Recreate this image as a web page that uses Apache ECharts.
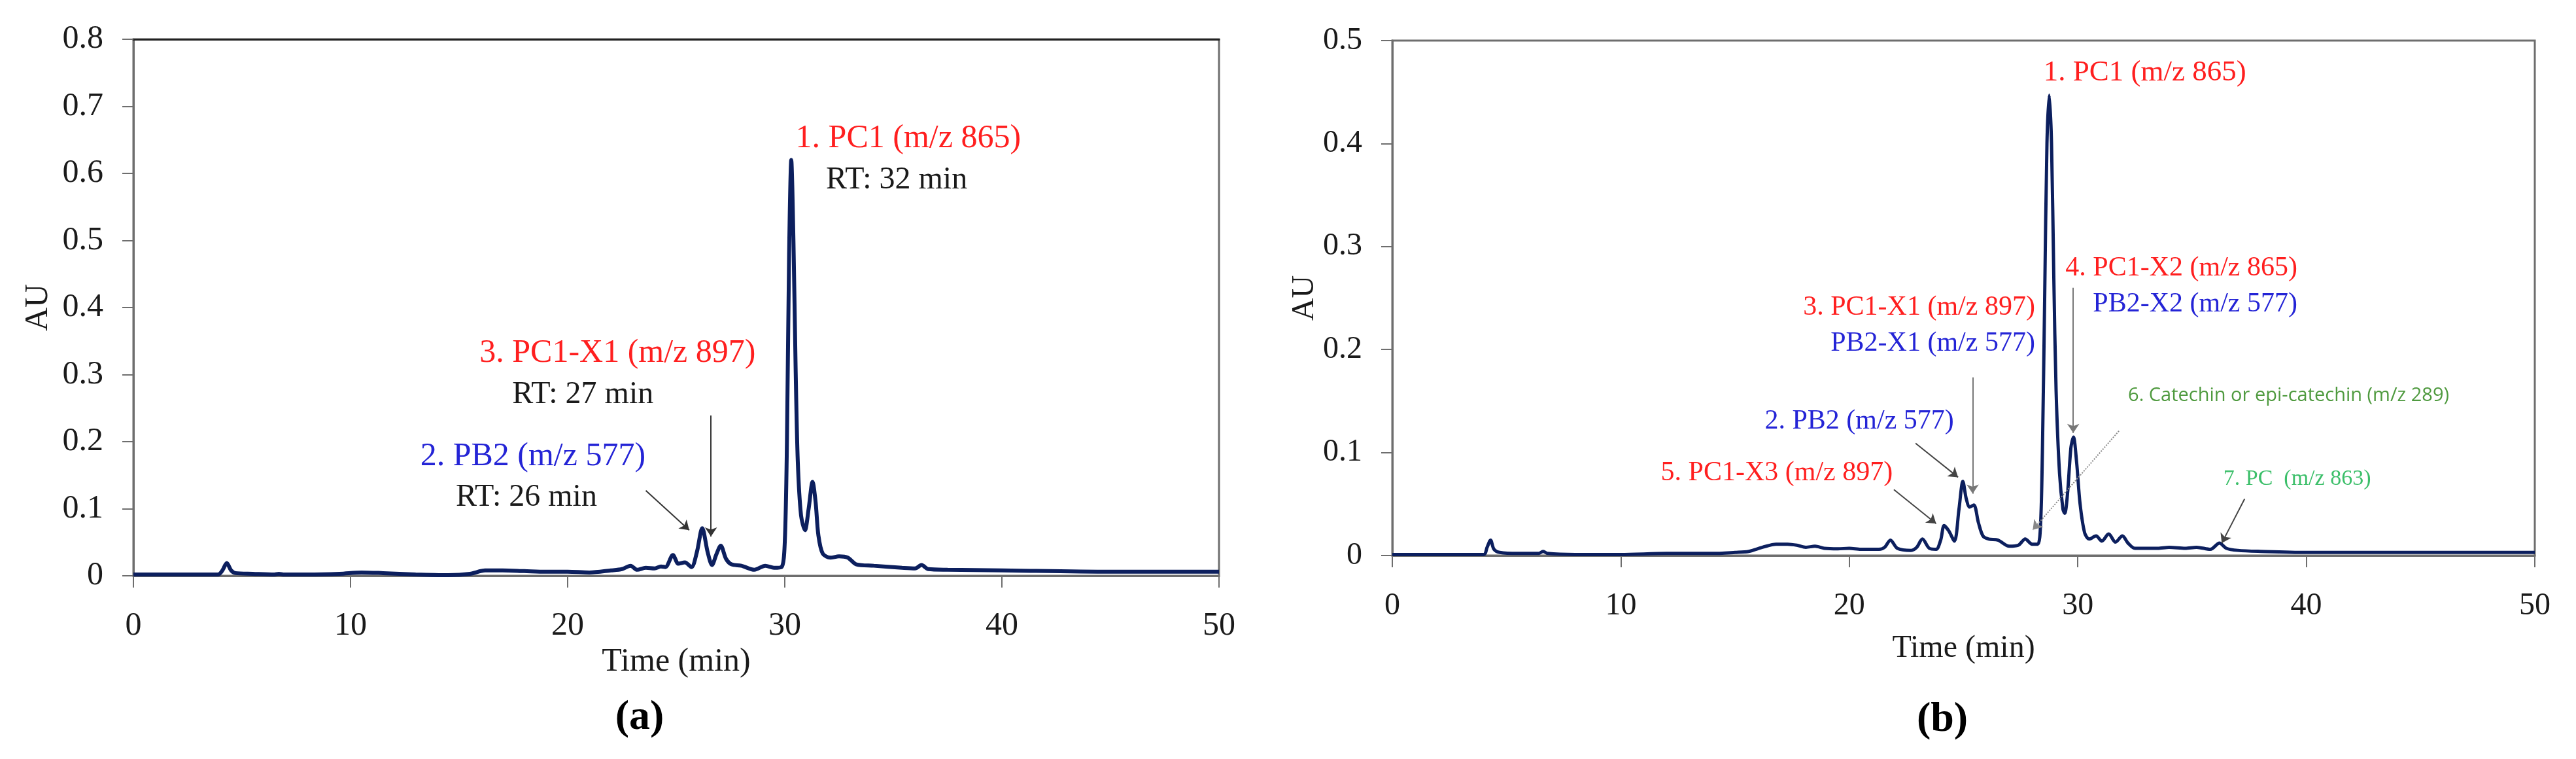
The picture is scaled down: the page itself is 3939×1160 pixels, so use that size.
<!DOCTYPE html>
<html>
<head>
<meta charset="utf-8">
<title>HPLC chromatograms (a) and (b)</title>
<script src="https://cdn.jsdelivr.net/npm/echarts@6.0.0/dist/echarts.min.js"></script>
<style>
  html, body { margin: 0; padding: 0; background: #fff; }
  #chart { width: 3939px; height: 1160px; }
</style>
</head>
<body>
<div id="chart"></div>
<script>
// chromatogram (a): retention time (min) / absorbance (AU)
var timeA = [0, 3.9, 4.1, 4.3, 4.5, 4.7, 5.5, 6.5, 6.7, 6.9, 8, 9.5, 10.5, 11.5, 13,
  14.5, 15.5, 16.2, 17, 18, 19, 20, 21, 22, 22.5, 22.9, 23.2, 23.6, 24, 24.3,
  24.5, 24.85, 25.1, 25.4, 25.7, 25.95, 26.2, 26.45, 26.65, 26.85, 27.05, 27.3, 27.55, 28, 28.6,
  29.1, 29.5, 29.85, 30.0, 30.1, 30.2, 30.3, 30.4, 30.5, 30.6, 30.75, 30.93, 31.1, 31.28, 31.42,
  31.55, 31.75, 32.1, 32.5, 32.9, 33.3, 34.1, 35.4, 36.0, 36.3, 36.6, 37.5, 40, 45, 50];
var auA = [0.002, 0.002, 0.008, 0.019, 0.008, 0.004, 0.003, 0.002, 0.003, 0.002, 0.002, 0.003, 0.005, 0.004, 0.002,
  0.001, 0.003, 0.008, 0.008, 0.007, 0.006, 0.006, 0.005, 0.008, 0.010, 0.015, 0.009, 0.012, 0.011, 0.014,
  0.013, 0.031, 0.018, 0.020, 0.013, 0.035, 0.071, 0.035, 0.016, 0.032, 0.045, 0.025, 0.017, 0.015, 0.009,
  0.015, 0.012, 0.013, 0.05, 0.2, 0.48, 0.62, 0.5, 0.31, 0.17, 0.09, 0.068, 0.1, 0.14, 0.11,
  0.06, 0.033, 0.027, 0.029, 0.027, 0.017, 0.015, 0.012, 0.011, 0.016, 0.010, 0.009, 0.008, 0.006, 0.006];

// chromatogram (b)
var timeB = [0, 4.0, 4.15, 4.3, 4.45, 4.7, 5.5, 6.4, 6.6, 6.8, 8, 10, 12, 14, 15,
  15.6, 16.2, 16.8, 17.3, 17.7, 18.1, 18.5, 18.9, 19.5, 20, 20.5, 21.3, 21.55, 21.8, 22.1,
  22.7, 22.95, 23.2, 23.5, 23.8, 24.0, 24.15, 24.35, 24.6, 24.8, 24.97, 25.12, 25.27, 25.45, 25.65,
  25.85, 26.1, 26.5, 27.0, 27.4, 27.7, 28.0, 28.25, 28.37, 28.45, 28.55, 28.65, 28.75, 28.85, 28.95,
  29.05, 29.2, 29.35, 29.43, 29.55, 29.7, 29.81, 29.95, 30.1, 30.3, 30.5, 30.8, 31.05, 31.35, 31.65,
  31.95, 32.2, 32.5, 33.5, 34.0, 34.7, 35.2, 35.8, 36.2, 36.5, 37, 38, 40, 45, 50];
var auB = [0.001, 0.001, 0.008, 0.015, 0.006, 0.003, 0.002, 0.002, 0.004, 0.002, 0.001, 0.001, 0.002, 0.002, 0.003,
  0.004, 0.008, 0.011, 0.011, 0.010, 0.008, 0.009, 0.007, 0.0065, 0.007, 0.006, 0.006, 0.008, 0.015, 0.007,
  0.005, 0.008, 0.016, 0.007, 0.006, 0.015, 0.029, 0.024, 0.014, 0.045, 0.072, 0.055, 0.047, 0.049, 0.032,
  0.019, 0.016, 0.015, 0.009, 0.010, 0.016, 0.011, 0.011, 0.03, 0.1, 0.25, 0.40, 0.447, 0.40, 0.27,
  0.16, 0.08, 0.045, 0.041, 0.06, 0.105, 0.115, 0.09, 0.05, 0.022, 0.016, 0.019, 0.014, 0.021, 0.013,
  0.019, 0.012, 0.007, 0.007, 0.008, 0.007, 0.008, 0.006, 0.012, 0.007, 0.005, 0.004, 0.003, 0.003, 0.003];

// axis ranges / tick steps
var timeMax = 50, timeStep = 10;
var auMaxA = 0.8, auMaxB = 0.5, auStep = 0.1;

var SERIF = "Liberation Serif";
var RED = "#ff1f1f", BLUE = "#2424d6", BLACK = "#1a1a1a";
var AXIS = "#6e6e6e", TRACE = "#0c1f5e";

function zip(xs, ys) {
  return xs.map(function (x, i) {
    return [x, ys[i]];
  });
}

function note(t, v, text, color, size, align, family) {
  return {
    coord: [t, v],
    symbol: "circle",
    symbolSize: 1,
    itemStyle: { color: "rgba(0,0,0,0)" },
    label: {
      show: true,
      position: "inside",
      formatter: text,
      color: color,
      fontSize: size,
      fontFamily: family || SERIF,
      align: align || "center",
      verticalAlign: "middle",
    },
  };
}

function arrow(t1, v1, t2, v2, color, type) {
  return [
    { coord: [t1, v1], lineStyle: { color: color, width: 2, type: type || "solid" } },
    { coord: [t2, v2] },
  ];
}

function xAxisOf(grid, size, gap, nameGap) {
  return {
    gridIndex: grid,
    type: "value",
    min: 0,
    max: timeMax,
    interval: timeStep,
    name: "Time (min)",
    nameLocation: "middle",
    nameGap: nameGap,
    nameTextStyle: { fontFamily: SERIF, fontSize: size, color: BLACK },
    axisLine: { show: true, lineStyle: { color: AXIS, width: 3 } },
    axisTick: { show: true, inside: false, length: 18, lineStyle: { color: AXIS, width: 2 } },
    axisLabel: { fontFamily: SERIF, fontSize: size, color: BLACK, margin: gap },
    splitLine: { show: false },
  };
}

function yAxisOf(grid, max, size, nameGap) {
  return {
    gridIndex: grid,
    type: "value",
    min: 0,
    max: max,
    interval: auStep,
    name: "AU",
    nameLocation: "middle",
    nameGap: nameGap,
    nameTextStyle: { fontFamily: SERIF, fontSize: size, color: BLACK },
    axisLine: { show: true, lineStyle: { color: AXIS, width: 3 } },
    axisTick: { show: true, inside: false, length: 17, lineStyle: { color: AXIS, width: 2 } },
    axisLabel: {
      fontFamily: SERIF,
      fontSize: size,
      color: BLACK,
      margin: 46,
      formatter: function (v) {
        return v === 0 ? "0" : v.toFixed(1);
      },
    },
    splitLine: { show: false },
  };
}

var chart = echarts.init(document.getElementById("chart"), null, { renderer: "canvas" });

chart.setOption({
  animation: false,
  backgroundColor: "#fff",
  grid: [
    { left: 204, right: 2075, top: 60, bottom: 280, show: true, borderColor: AXIS, borderWidth: 3 },
    { left: 2129, right: 63, top: 62, bottom: 311, show: true, borderColor: AXIS, borderWidth: 3 },
  ],
  xAxis: [
    xAxisOf(0, 50, 52, 88),
    xAxisOf(1, 48, 53, 118),
    // darker top frame line of panel (a)
    {
      gridIndex: 0,
      type: "value",
      position: "top",
      min: 0,
      max: timeMax,
      axisLine: { show: true, lineStyle: { color: "#222", width: 3 } },
      axisTick: { show: false },
      axisLabel: { show: false },
      splitLine: { show: false },
    },
  ],
  yAxis: [yAxisOf(0, auMaxA, 50, 120), yAxisOf(1, auMaxB, 48, 100)],
  graphic: [
    {
      type: "text",
      x: 978,
      y: 1097,
      style: { text: "(a)", fontFamily: SERIF, fontSize: 64, fontWeight: "bold", fill: "#000", align: "center", verticalAlign: "middle" },
    },
    {
      type: "text",
      x: 2970,
      y: 1100,
      style: { text: "(b)", fontFamily: SERIF, fontSize: 64, fontWeight: "bold", fill: "#000", align: "center", verticalAlign: "middle" },
    },
  ],
  series: [
    {
      type: "line",
      xAxisIndex: 0,
      yAxisIndex: 0,
      data: zip(timeA, auA),
      showSymbol: false,
      smooth: 0.3,
      lineStyle: { color: TRACE, width: 6 },
      markPoint: {
        silent: true,
        animation: false,
        data: [
          note(30.5, 0.652, "1. PC1 (m/z 865)", RED, 50, "left"),
          note(31.9, 0.59, "RT: 32 min", BLACK, 48, "left"),
          note(22.3, 0.332, "3. PC1-X1 (m/z 897)", RED, 50),
          note(20.7, 0.27, "RT: 27 min", BLACK, 48),
          note(18.4, 0.178, "2. PB2 (m/z 577)", BLUE, 50),
          note(18.1, 0.117, "RT: 26 min", BLACK, 48),
        ],
      },
      markLine: {
        silent: true,
        animation: false,
        symbol: ["none", "arrow"],
        symbolSize: 14,
        label: { show: false },
        data: [
          arrow(23.6, 0.127, 25.6, 0.068, "#333"),
          arrow(26.6, 0.239, 26.6, 0.0585, "#333"),
        ],
      },
    },
    {
      type: "line",
      xAxisIndex: 1,
      yAxisIndex: 1,
      data: zip(timeB, auB),
      showSymbol: false,
      smooth: 0.3,
      lineStyle: { color: TRACE, width: 5 },
      markPoint: {
        silent: true,
        animation: false,
        data: [
          note(28.5, 0.469, "1. PC1 (m/z 865)", RED, 45, "left"),
          note(39.61, 0.279, "4. PC1-X2 (m/z 865)", RED, 42, "right"),
          note(39.61, 0.244, "PB2-X2 (m/z 577)", BLUE, 42, "right"),
          note(28.13, 0.241, "3. PC1-X1 (m/z 897)", RED, 42, "right"),
          note(28.13, 0.206, "PB2-X1 (m/z 577)", BLUE, 42, "right"),
          note(24.58, 0.13, "2. PB2 (m/z 577)", BLUE, 42, "right"),
          note(21.9, 0.08, "5. PC1-X3 (m/z 897)", RED, 42, "right"),
          note(32.2, 0.155, "6. Catechin or epi-catechin (m/z 289)", "#4f9a3f", 29, "left", "Open Sans"),
          note(39.6, 0.074, "7. PC  (m/z 863)", "#3cbf6a", 34),
        ],
      },
      markLine: {
        silent: true,
        animation: false,
        symbol: ["none", "arrow"],
        symbolSize: 14,
        label: { show: false },
        data: [
          arrow(29.8, 0.26, 29.8, 0.119, "#777"),
          arrow(25.4, 0.173, 25.4, 0.06, "#777"),
          arrow(22.9, 0.109, 24.76, 0.076, "#444"),
          arrow(21.95, 0.064, 23.8, 0.031, "#444"),
          arrow(31.8, 0.121, 28.03, 0.025, "#888", "dotted"),
          arrow(37.3, 0.055, 36.3, 0.012, "#444"),
        ],
      },
    },
  ],
});
</script>
</body>
</html>
